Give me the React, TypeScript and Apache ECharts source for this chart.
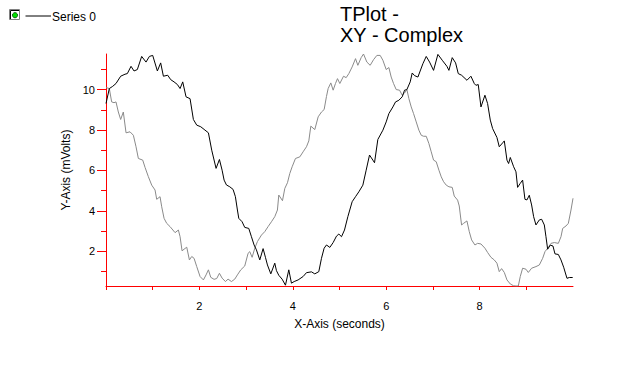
import React, { useEffect, useRef } from "react";
import * as echarts from "echarts";

const titleText = "TPlot -\nXY - Complex";
const xAxisName = "X-Axis (seconds)";
const yAxisName = "Y-Axis (mVolts)";
const series0Name = "Series 0";
const series1Name = "Series 1";

const xMin = 0;
const xMax = 10;
const yMin = 0.28;
const yMax = 11.76;
const xTickValues = [0, 1, 2, 3, 4, 5, 6, 7, 8, 9];
const xLabelValues = [2, 4, 6, 8];
const yMinorTickValues = [1, 3, 5, 7, 9, 11];
const yLabelValues = [2, 4, 6, 8, 10];

// Series 0 (black): [x, y]
const series0: [number, number][] = [
  [0, 9.31], [0.071, 10.05], [0.143, 10.16], [0.214, 10.3], [0.314, 10.66], [0.407, 10.76],
  [0.457, 10.79], [0.536, 11.15], [0.6, 10.92], [0.671, 10.99], [0.764, 11.64], [0.857, 11.36],
  [0.929, 11.64], [1.0, 11.69], [1.1, 10.92], [1.171, 11.32], [1.229, 10.66], [1.321, 10.71],
  [1.386, 10.49], [1.457, 10.38], [1.529, 10.25], [1.586, 10.05], [1.643, 10.38], [1.714, 9.64],
  [1.8, 9.55], [1.871, 8.52], [1.943, 8.24], [2.029, 8.16], [2.1, 8.03], [2.193, 7.86],
  [2.264, 7.0], [2.357, 6.1], [2.429, 6.54], [2.486, 6.01], [2.529, 5.52], [2.579, 5.28],
  [2.65, 5.19], [2.721, 5.06], [2.771, 4.7], [2.814, 4.04], [2.843, 3.63], [2.914, 3.46],
  [2.971, 3.18], [3.057, 3.13], [3.114, 2.72], [3.171, 2.31], [3.221, 2.07], [3.293, 1.57],
  [3.364, 2.13], [3.414, 1.7], [3.457, 1.32], [3.529, 0.88], [3.614, 1.41], [3.65, 1.04],
  [3.7, 0.81], [3.771, 0.62], [3.843, 0.32], [3.914, 1.08], [3.971, 0.42], [4.029, 0.5],
  [4.114, 0.58], [4.221, 0.75], [4.293, 0.94], [4.4, 0.98], [4.471, 0.88], [4.557, 0.99],
  [4.614, 1.65], [4.671, 2.15], [4.721, 2.31], [4.793, 2.19], [4.864, 2.43], [4.936, 2.75],
  [4.986, 2.85], [5.043, 2.72], [5.107, 3.05], [5.179, 3.71], [5.271, 4.45], [5.343, 4.7],
  [5.414, 4.94], [5.5, 5.27], [5.571, 6.01], [5.643, 6.76], [5.714, 6.51], [5.75, 6.38],
  [5.821, 7.53], [5.929, 7.99], [6.0, 8.4], [6.057, 8.81], [6.143, 9.14], [6.2, 9.39],
  [6.271, 9.47], [6.343, 9.64], [6.393, 9.97], [6.443, 10.0], [6.514, 10.38], [6.557, 10.82],
  [6.607, 10.69], [6.679, 10.62], [6.786, 11.28], [6.857, 11.64], [6.929, 11.36], [7.014, 10.95],
  [7.107, 11.74], [7.2, 11.45], [7.3, 11.15], [7.343, 10.95], [7.414, 11.58], [7.486, 11.32],
  [7.543, 10.79], [7.614, 10.71], [7.729, 10.46], [7.814, 10.66], [7.886, 10.3], [7.921, 10.21],
  [7.971, 10.25], [8.029, 9.14], [8.114, 9.72], [8.171, 9.31], [8.229, 8.49], [8.279, 8.07],
  [8.371, 7.63], [8.421, 7.17], [8.493, 7.36], [8.529, 7.46], [8.586, 6.51], [8.621, 6.34],
  [8.657, 6.64], [8.729, 6.18], [8.779, 5.93], [8.814, 5.16], [8.871, 5.36], [8.921, 5.52],
  [8.971, 4.57], [9.014, 4.54], [9.064, 4.77], [9.114, 4.29], [9.157, 3.71], [9.207, 3.3],
  [9.279, 3.55], [9.329, 3.58], [9.386, 3.3], [9.421, 2.72], [9.457, 2.1], [9.514, 2.3],
  [9.571, 2.26], [9.614, 1.87], [9.686, 1.84], [9.743, 1.57], [9.8, 1.21], [9.871, 0.66],
  [9.921, 0.7], [9.993, 0.7],
];

// Series 1 (gray): [x, y]
const series1: [number, number][] = [
  [0, 10.1], [0.071, 10.05], [0.121, 9.39], [0.171, 9.35], [0.214, 9.39], [0.264, 8.89],
  [0.314, 8.52], [0.371, 8.89], [0.429, 7.86], [0.514, 7.91], [0.586, 7.74], [0.643, 7.17],
  [0.693, 6.59], [0.786, 6.51], [0.836, 6.15], [0.907, 5.69], [0.979, 5.27], [1.05, 5.03],
  [1.086, 4.57], [1.157, 4.7], [1.193, 4.2], [1.243, 3.63], [1.3, 3.38], [1.371, 3.22],
  [1.479, 2.92], [1.55, 3.05], [1.586, 2.72], [1.629, 2.02], [1.671, 2.1], [1.729, 2.2],
  [1.786, 1.57], [1.836, 1.74], [1.886, 1.65], [1.943, 1.24], [2.014, 0.75], [2.086, 0.58],
  [2.143, 0.83], [2.193, 1.08], [2.243, 0.71], [2.314, 0.61], [2.371, 0.65], [2.429, 0.91],
  [2.486, 0.67], [2.557, 0.5], [2.614, 0.62], [2.686, 0.5], [2.757, 0.62], [2.814, 0.83],
  [2.886, 1.08], [2.971, 1.27], [3.043, 1.9], [3.079, 1.98], [3.129, 1.7], [3.186, 2.15],
  [3.243, 2.48], [3.329, 2.8], [3.4, 2.97], [3.471, 3.22], [3.543, 3.46], [3.614, 3.71],
  [3.671, 4.04], [3.7, 4.78], [3.779, 4.5], [3.829, 5.11], [3.886, 5.39], [3.936, 5.85],
  [3.986, 6.18], [4.057, 6.59], [4.15, 6.67], [4.221, 6.92], [4.293, 7.17], [4.343, 7.46],
  [4.386, 8.19], [4.471, 8.02], [4.543, 8.65], [4.614, 8.89], [4.671, 9.01], [4.721, 9.66],
  [4.757, 10.05], [4.814, 10.33], [4.864, 9.97], [4.914, 10.3], [4.957, 10.54], [5.007, 10.3],
  [5.086, 10.66], [5.143, 10.59], [5.2, 10.79], [5.271, 11.12], [5.343, 11.53], [5.393, 11.2],
  [5.464, 11.58], [5.514, 11.76], [5.586, 11.36], [5.657, 11.2], [5.729, 11.48], [5.8, 11.69],
  [5.871, 11.69], [5.929, 11.45], [6.0, 10.99], [6.057, 11.09], [6.107, 10.62], [6.157, 10.3],
  [6.214, 10.0], [6.286, 9.97], [6.343, 9.72], [6.393, 9.83], [6.443, 10.0], [6.486, 9.55],
  [6.536, 9.14], [6.586, 8.81], [6.643, 8.4], [6.7, 7.99], [6.75, 7.74], [6.8, 7.69],
  [6.857, 7.69], [6.914, 7.33], [6.964, 6.92], [7.014, 6.51], [7.071, 6.43], [7.129, 6.01],
  [7.179, 5.68], [7.229, 5.44], [7.286, 5.27], [7.343, 5.19], [7.414, 5.16], [7.457, 4.73],
  [7.529, 4.53], [7.564, 4.24], [7.614, 3.3], [7.657, 3.38], [7.729, 3.5], [7.779, 2.97],
  [7.829, 2.56], [7.9, 2.31], [7.957, 2.39], [8.029, 2.36], [8.114, 2.15], [8.171, 1.94],
  [8.243, 1.7], [8.314, 1.57], [8.371, 1.41], [8.421, 0.99], [8.471, 1.14], [8.529, 0.95],
  [8.586, 0.58], [8.657, 0.38], [8.729, 0.29], [8.779, 0.28], [8.829, 0.28], [8.871, 0.75],
  [8.921, 1.16], [8.993, 1.11], [9.043, 0.95], [9.114, 1.16], [9.207, 1.24], [9.279, 1.32],
  [9.35, 1.65], [9.4, 1.98], [9.457, 2.15], [9.529, 2.39], [9.6, 2.43], [9.686, 2.39],
  [9.743, 2.72], [9.779, 3.13], [9.85, 3.25], [9.9, 3.38], [9.957, 4.04], [10.0, 4.62],
];

const FONT = "'Liberation Sans', Arial, sans-serif";
const RED = "#ff0000";

export default function App() {
  const ref = useRef<HTMLDivElement>(null);

  useEffect(() => {
    if (!ref.current) return;
    const chart = echarts.init(ref.current, null, { renderer: "svg" });
    const option: any = {
      animation: false,
      backgroundColor: "#ffffff",
      textStyle: { fontFamily: FONT },
      title: {
        text: titleText,
        left: 340,
        top: 4,
        padding: 0,
        textStyle: {
          fontFamily: FONT,
          fontSize: 20,
          fontWeight: "normal",
          color: "#000",
          lineHeight: 20.5,
        },
      },
      graphic: [
        {
          type: "rect",
          shape: { x: 9.5, y: 9.5, width: 10, height: 10 },
          style: { fill: "#ffffff", stroke: "#808080", lineWidth: 1 },
        },
        {
          type: "polyline",
          shape: { points: [[10.5, 19], [10.5, 10.5], [19, 10.5]] },
          style: { fill: null, stroke: "#000000", lineWidth: 1 },
        },
        {
          type: "circle",
          shape: { cx: 15, cy: 15.2, r: 2.6 },
          style: { fill: "#00dd00", stroke: "#004400", lineWidth: 0.8 },
        },
        {
          type: "line",
          shape: { x1: 25.5, y1: 16, x2: 51, y2: 16 },
          style: { stroke: "#000000", lineWidth: 1 },
        },
        {
          type: "text",
          x: 52,
          y: 16.5,
          style: {
            text: series0Name,
            fontFamily: FONT,
            fontSize: 12,
            fill: "#000",
            verticalAlign: "middle",
            align: "left",
          },
        },
      ],
      grid: { left: 106, right: 64, top: 54, bottom: 96, containLabel: false },
      xAxis: {
        type: "value",
        min: xMin,
        max: xMax,
        name: xAxisName,
        nameLocation: "middle",
        nameGap: 32,
        nameTextStyle: { fontFamily: FONT, fontSize: 12, color: "#000" },
        axisLine: { show: true, lineStyle: { color: RED, width: 1 } },
        axisTick: {
          show: true,
          length: 4,
          customValues: xTickValues,
          lineStyle: { color: RED, width: 1 },
        },
        axisLabel: {
          customValues: xLabelValues,
          fontFamily: FONT,
          fontSize: 11,
          color: "#000",
          margin: 14,
        },
        splitLine: { show: false },
      },
      yAxis: [
        {
          type: "value",
          min: yMin,
          max: yMax,
          position: "left",
          name: yAxisName,
          nameLocation: "middle",
          nameGap: 29,
          nameTextStyle: { fontFamily: FONT, fontSize: 12, color: "#000" },
          axisLine: { show: true, lineStyle: { color: RED, width: 1 } },
          axisTick: {
            show: true,
            length: 5,
            customValues: yMinorTickValues,
            lineStyle: { color: RED, width: 1 },
          },
          axisLabel: {
            customValues: yLabelValues,
            fontFamily: FONT,
            fontSize: 11,
            color: "#000",
            margin: 11,
          },
          splitLine: { show: false },
        },
        {
          type: "value",
          min: yMin,
          max: yMax,
          position: "left",
          axisLine: { show: false },
          axisTick: {
            show: true,
            length: 9,
            customValues: yLabelValues,
            lineStyle: { color: RED, width: 1 },
          },
          axisLabel: { show: false },
          splitLine: { show: false },
        },
      ],
      series: [
        {
          name: series0Name,
          type: "line",
          data: series0,
          yAxisIndex: 0,
          symbol: "none",
          lineStyle: { color: "#000000", width: 1 },
          itemStyle: { color: "#000000" },
          z: 3,
        },
        {
          name: series1Name,
          type: "line",
          data: series1,
          yAxisIndex: 0,
          symbol: "none",
          lineStyle: { color: "#8a8a8a", width: 1 },
          itemStyle: { color: "#8a8a8a" },
          z: 2,
        },
      ],
    };
    chart.setOption(option);
    return () => {
      chart.dispose();
    };
  }, []);

  return (
    <div
      ref={ref}
      style={{ position: "fixed", left: 0, top: 0, width: 637, height: 382, background: "#fff" }}
    />
  );
}
